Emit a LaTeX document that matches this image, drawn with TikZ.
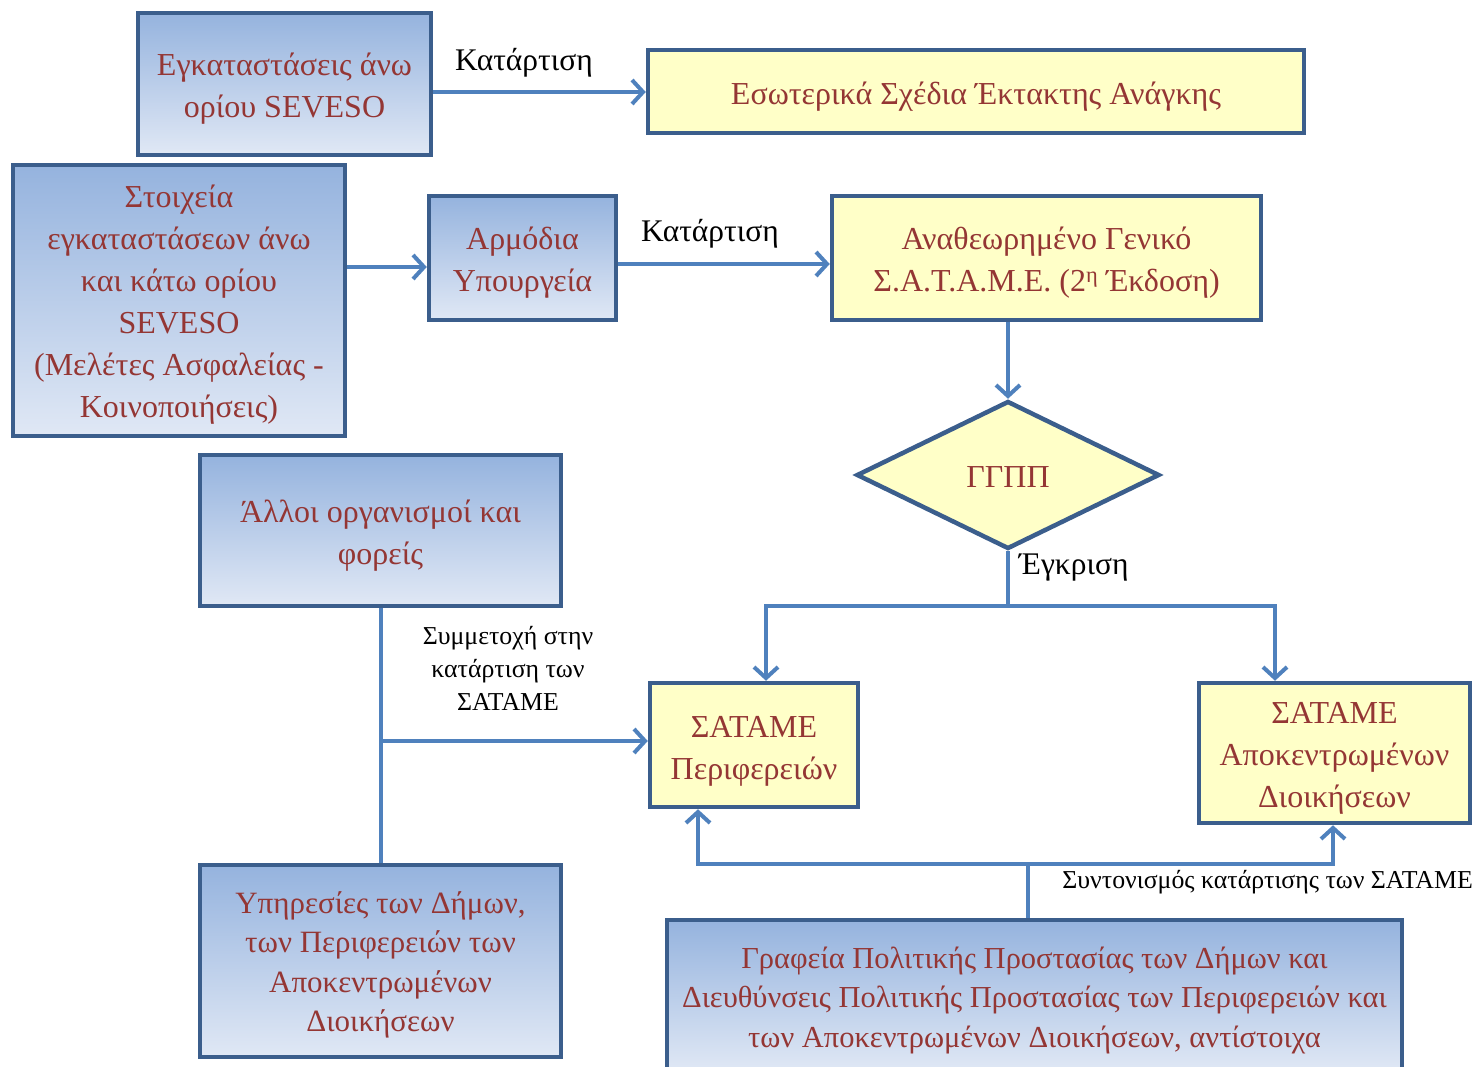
\documentclass[tikz,border=0pt]{standalone}
\usepackage{fontspec}
\setmainfont{Liberation Serif}
\usetikzlibrary{shapes.geometric,arrows.meta,calc}
\definecolor{bordc}{HTML}{3B5E8C}
\definecolor{linec}{HTML}{4F81BD}
\definecolor{txtc}{HTML}{943634}
\definecolor{gtop}{HTML}{95B3DE}
\definecolor{gbot}{HTML}{E0E8F5}
\definecolor{yel}{HTML}{FFFFC8}
\tikzset{
  bluebox/.style={draw=bordc, line width=4.5pt, top color=gtop, bottom color=gbot, inner sep=0pt},
  yelbox/.style={draw=bordc, line width=4.5pt, fill=yel, inner sep=0pt},
  boxtext/.style={text=txtc, align=center, inner sep=0pt, font=\fontsize{32}{42}\selectfont},
  conn/.style={draw=linec, line width=4pt},
  arr/.style={conn, -{Straight Barb[length=11pt,width=24pt]}},
  lbl/.style={text=black, font=\fontsize{31.5}{36}\selectfont, inner sep=0pt},
  slbl/.style={text=black, font=\fontsize{25.8}{33}\selectfont, inner sep=0pt, align=center}
}
\begin{document}
\begin{tikzpicture}[x=1pt,y=-1pt]
\useasboundingbox (0,0) rectangle (1477,1067);
\clip (0,0) rectangle (1477,1067);
% boxes
\node[bluebox, minimum width=293, minimum height=142] (b1) at (284.5,84) {};
\node[boxtext] (b1t) at ([yshift=-5pt]b1.center) {Εγκαταστάσεις άνω\\ορίου SEVESO};
\node[yelbox, minimum width=656, minimum height=83] (b2) at (976,91.5) {};
\node[boxtext] (b2t) at ([yshift=-5pt]b2.center) {Εσωτερικά Σχέδια Έκτακτης Ανάγκης};
\node[bluebox, minimum width=332, minimum height=271] (b3) at (179,300.5) {};
\node[boxtext] (b3t) at ([yshift=-4pt]b3.center) {Στοιχεία\\εγκαταστάσεων άνω\\και κάτω ορίου\\SEVESO\\(Μελέτες Ασφαλείας -\\Κοινοποιήσεις)};
\node[bluebox, minimum width=187, minimum height=124] (b4) at (522.5,258) {};
\node[boxtext] (b4t) at ([yshift=-5pt]b4.center) {Αρμόδια\\Υπουργεία};
\node[yelbox, minimum width=429, minimum height=124] (b5) at (1046.5,258) {};
\node[boxtext] (b5t) at ([yshift=-5pt]b5.center) {Αναθεωρημένο Γενικό\\Σ.Α.Τ.Α.Μ.Ε. (2\textsuperscript{η} Έκδοση)};
\node[yelbox, diamond, minimum width=303, minimum height=148] (g) at (1008,475) {};
\node[boxtext] (gt) at ([yshift=-2pt]g.center) {ΓΓΠΠ};
\node[bluebox, minimum width=361, minimum height=151] (b6) at (380.5,530.5) {};
\node[boxtext] (b6t) at ([yshift=-5pt]b6.center) {Άλλοι οργανισμοί και\\φορείς};
\node[bluebox, minimum width=361, minimum height=192] (b7) at (380.5,961) {};
\node[boxtext, font=\fontsize{31}{39.5}\selectfont] (b7t) at ([yshift=-4pt]b7.center) {Υπηρεσίες των Δήμων,\\των Περιφερειών των\\Αποκεντρωμένων\\Διοικήσεων};
\node[yelbox, minimum width=208, minimum height=124] (sp) at (754,745) {};
\node[boxtext] (spt) at ([yshift=-6pt]sp.center) {ΣΑΤΑΜΕ\\Περιφερειών};
\node[yelbox, minimum width=271, minimum height=140] (sa) at (1334.5,753) {};
\node[boxtext] (sat) at ([yshift=-5pt]sa.center) {ΣΑΤΑΜΕ\\Αποκεντρωμένων\\Διοικήσεων};
\node[bluebox, minimum width=735, minimum height=152] (b8) at (1034.5,996) {};
\node[boxtext, font=\fontsize{30.5}{39.5}\selectfont] (b8t) at ([yshift=-4pt]b8.center) {Γραφεία Πολιτικής Προστασίας των Δήμων και\\Διευθύνσεις Πολιτικής Προστασίας των Περιφερειών και\\των Αποκεντρωμένων Διοικήσεων, αντίστοιχα};
% labels
\node[lbl] (l1) at (524,63) {Κατάρτιση};
\node[lbl] (l2) at (710,234) {Κατάρτιση};
\node[lbl, anchor=west] (l3) at (1019,568) {Έγκριση};
\node[slbl] (l4) at (508,668) {Συμμετοχή στην\\κατάρτιση των\\ΣΑΤΑΜΕ};
\node[slbl, anchor=east] (l5) at (1473,882) {Συντονισμός κατάρτισης των ΣΑΤΑΜΕ};
% connectors
\draw[arr] (b1.east |- 0,92) -- (b2.west |- 0,92);
\draw[arr] (b3.east |- 0,267) -- (b4.west |- 0,267);
\draw[arr] (b4.east |- 0,264) -- (b5.west |- 0,264);
\draw[arr] (b5.south -| g.north) -- (g.north);
\coordinate (ga) at (1008,606);
\draw[conn] (g.south) -- (ga);
\draw[arr] (ga) -| ([xshift=12pt]sp.north);
\draw[arr] (ga) -| ([xshift=-59.5pt]sa.north);
\draw[conn] (b6.south) -- (b7.north);
\coordinate (ja) at (380,741);
\draw[arr] (ja) -- (sp.west |- ja);
\coordinate (gb) at (1028,864);
\draw[conn] (b8.north -| gb) -- (gb);
\draw[arr] (gb) -| ([xshift=-56pt]sp.south);
\draw[arr] (gb) -| ([xshift=-1.5pt]sa.south);
\end{tikzpicture}
\end{document}
